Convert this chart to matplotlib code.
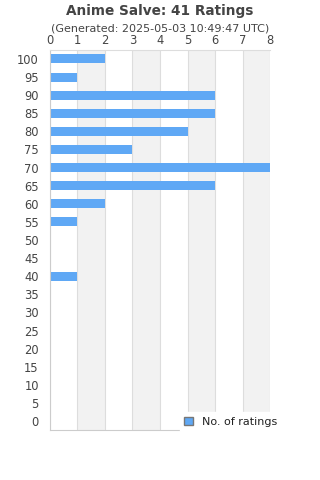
import matplotlib
matplotlib.use("Agg")
import matplotlib.pyplot as plt
from matplotlib.patches import Patch

scores = [100, 95, 90, 85, 80, 75, 70, 65, 60, 55, 50, 45, 40, 35, 30, 25, 20, 15, 10, 5, 0]
counts = [2, 1, 6, 6, 5, 3, 8, 6, 2, 1, 0, 0, 1, 0, 0, 0, 0, 0, 0, 0, 0]
x_ticks = list(range(0, 9))

BAR = "#5fa8f5"
TXT = "#444444"

fig = plt.figure(figsize=(3.2, 4.8), dpi=100)
ax = fig.add_axes([0.156, 0.104, 0.688, 0.792])

# alternating bands
for x0 in range(1, 8, 2):
    ax.axvspan(x0, x0 + 1, color="#f2f2f2", zorder=0, lw=0)
for x in x_ticks:
    ax.axvline(x, color="#dddddd", lw=0.8, zorder=1)

ypos = list(range(len(scores)))
ax.barh(ypos, counts, height=0.5, color=BAR, zorder=2)

ax.set_xlim(0, 8)
ax.set_ylim(len(scores) - 0.5, -0.5)
ax.set_yticks(ypos)
ax.set_yticklabels([str(s) for s in scores])
ax.set_xticks(x_ticks)
ax.xaxis.tick_top()
ax.tick_params(axis="both", length=0, labelsize=8.3, colors=TXT, pad=2)
ax.tick_params(axis="y", pad=8)
for s in ax.spines.values():
    s.set_color("#dddddd")
    s.set_linewidth(0.8)
ax.spines["right"].set_visible(False)
ax.spines["left"].set_color("#cccccc")
ax.spines["bottom"].set_color("#cccccc")

fig.text(0.5, 0.977, "Anime Salve: 41 Ratings", ha="center", va="center",
         fontsize=9.8, fontweight="bold", color=TXT)
fig.text(0.5, 0.94, "(Generated: 2025-05-03 10:49:47 UTC)", ha="center", va="center",
         fontsize=8, color=TXT)

leg = fig.legend(handles=[Patch(facecolor=BAR, edgecolor="#777777", label="No. of ratings")],
                 loc="center left", bbox_to_anchor=(0.545, 0.121), frameon=True,
                 fontsize=8, handlelength=0.8, handleheight=0.8, handletextpad=0.8,
                 borderpad=0.4, fancybox=False)
leg.get_frame().set_edgecolor("white")
leg.get_frame().set_facecolor("white")
leg.get_frame().set_alpha(1)
for t in leg.get_texts():
    t.set_color("#222222")

fig.savefig("out.png", dpi=100)
